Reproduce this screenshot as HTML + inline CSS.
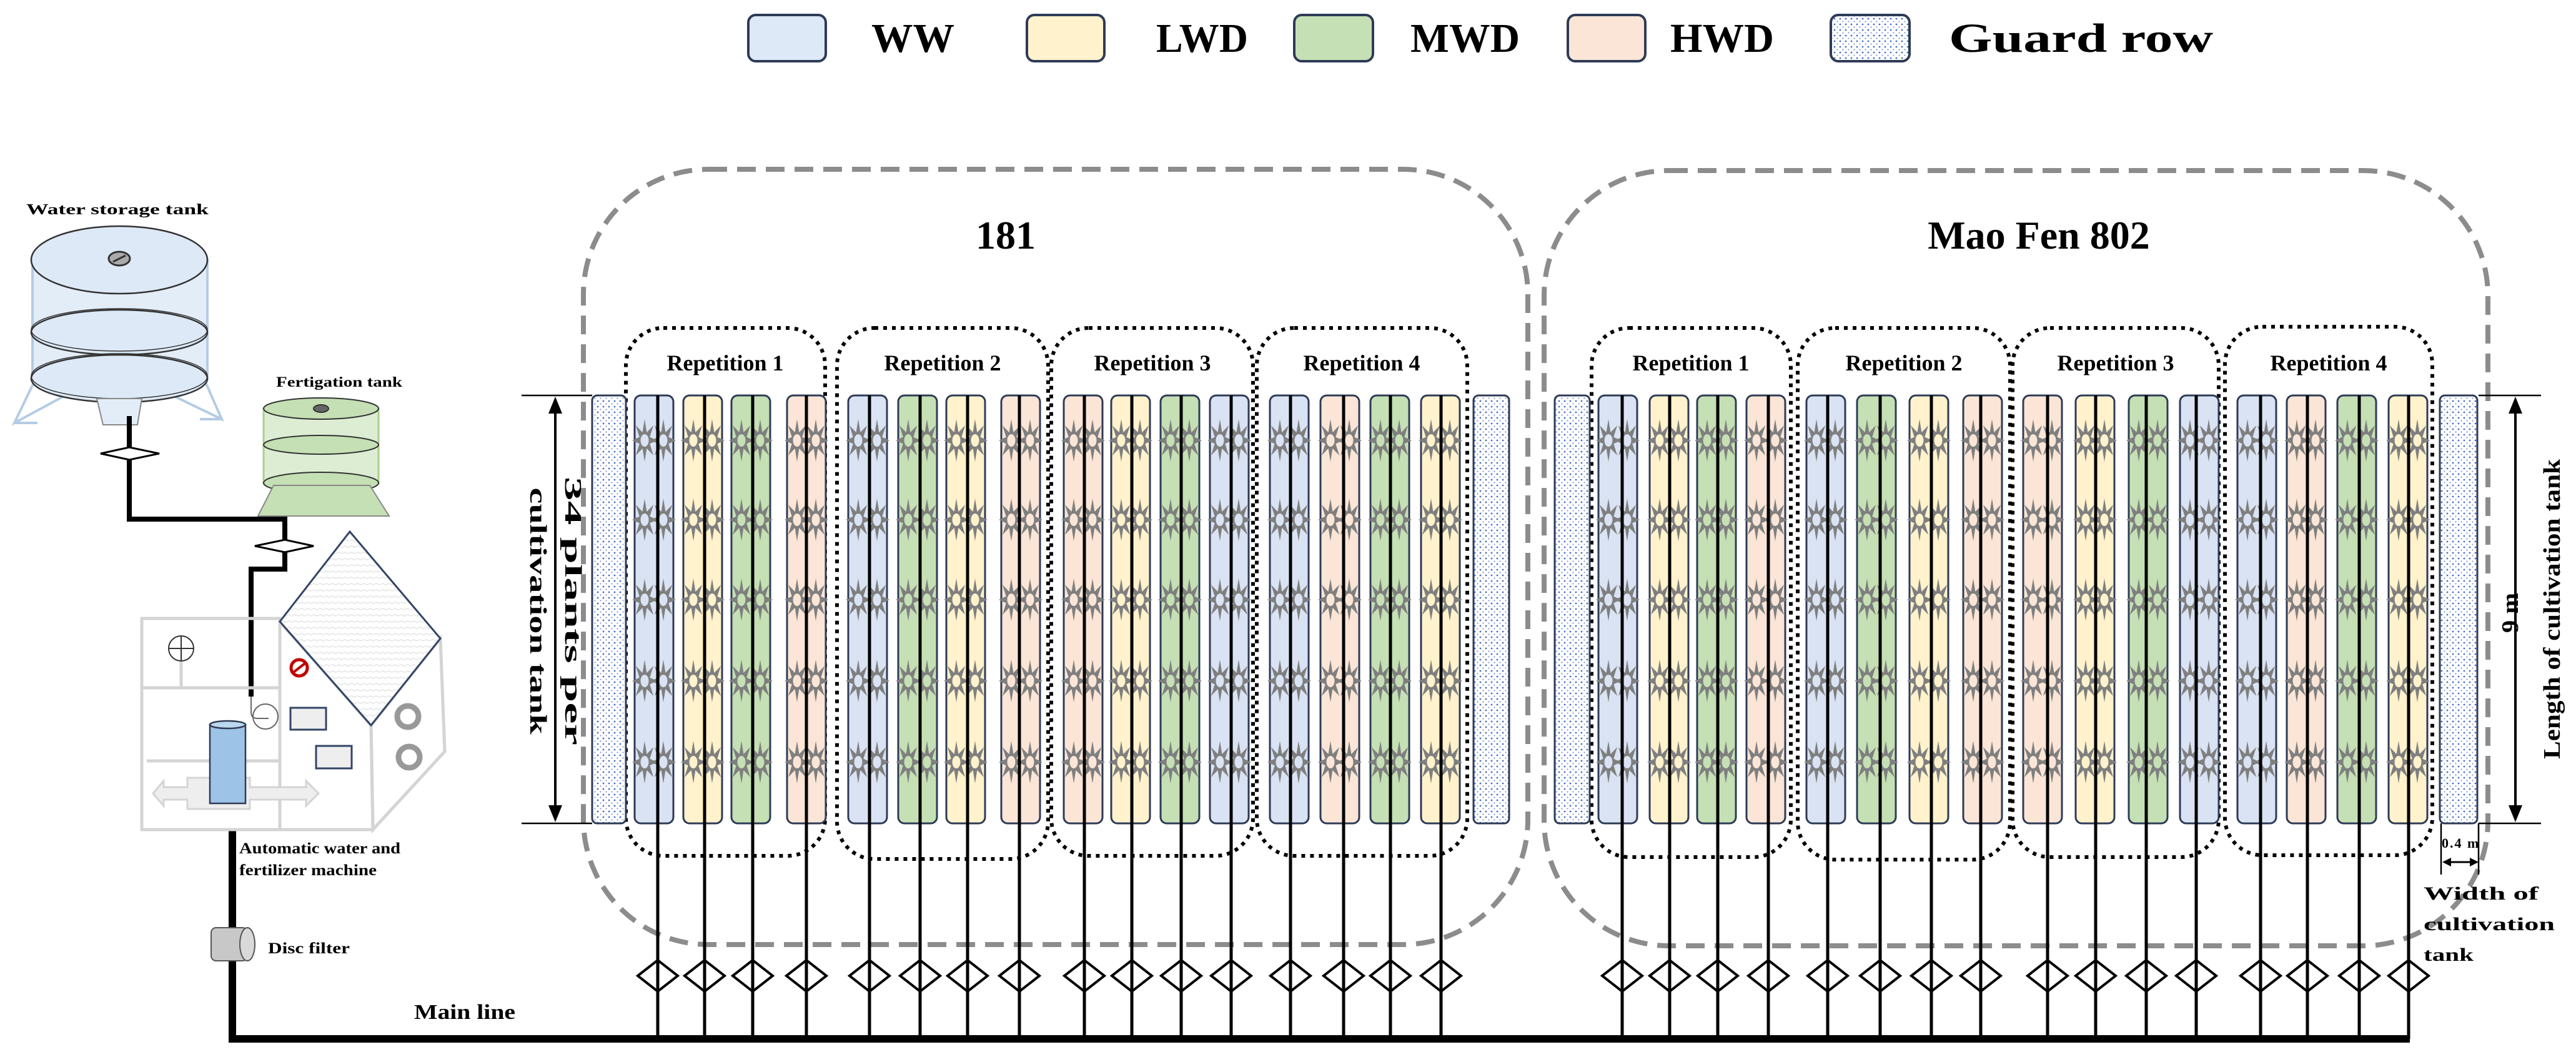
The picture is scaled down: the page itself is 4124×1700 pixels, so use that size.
<!DOCTYPE html>
<html><head><meta charset="utf-8"><style>
html,body{margin:0;padding:0;background:#fff;}
svg{display:block;}
text{font-family:"Liberation Serif",serif;font-weight:bold;fill:#000;}
</style></head><body>
<svg width="4124" height="1700" viewBox="0 0 4124 1700" xmlns="http://www.w3.org/2000/svg">
<defs>
<pattern id="dots" width="9" height="9" patternUnits="userSpaceOnUse"><rect width="9" height="9" fill="#fff"/><circle cx="3" cy="3" r="1.4" fill="#4a6fc0"/><circle cx="7.5" cy="7.5" r="1.1" fill="#7d99d6"/></pattern>
<pattern id="hatch" width="10" height="10" patternUnits="userSpaceOnUse"><rect width="10" height="10" fill="#fff"/><path d="M0 5 Q2.5 3 5 5 T10 5" stroke="#e4e4e4" stroke-width="1.5" fill="none"/></pattern>
<g id="st">
<polygon points="0,-34 3.4,-12.9 14.1,-24 8.3,-5.4 20,0 8.3,5.4 14.1,24 3.4,12.9 0,34 -3.4,12.9 -14.1,24 -8.3,5.4 -20,0 -8.3,-5.4 -14.1,-24 -3.4,-12.9" fill="#7f7f7f"/>
<ellipse cx="0" cy="0" rx="6.5" ry="10" fill="currentColor"/>
</g>
<g id="tank">
<rect x="0" y="633" width="62" height="685" rx="10" fill="currentColor" stroke="#2e3b57" stroke-width="3"/>
<use href="#st" x="16" y="705"/><use href="#st" x="46" y="705"/>
<use href="#st" x="16" y="832"/><use href="#st" x="46" y="832"/>
<use href="#st" x="16" y="960"/><use href="#st" x="46" y="960"/>
<use href="#st" x="16" y="1090"/><use href="#st" x="46" y="1090"/>
<use href="#st" x="16" y="1220"/><use href="#st" x="46" y="1220"/>
</g>
<g id="valve"><polygon points="-32,0 0,-25 32,0 0,25" fill="#fff" stroke="#000" stroke-width="4"/></g>
</defs>

<!-- Legend -->
<g stroke="#2e3b57" stroke-width="4">
<rect x="1198" y="24" width="124" height="74" rx="12" fill="#dde9f6"/>
<rect x="1644" y="24" width="124" height="74" rx="12" fill="#fff2cc"/>
<rect x="2072" y="24" width="126" height="74" rx="12" fill="#c5e0b4"/>
<rect x="2510" y="24" width="124" height="74" rx="12" fill="#fbe5d6"/>
<rect x="2931" y="24" width="126" height="74" rx="12" fill="url(#dots)"/>
</g>
<g font-size="66">
<text x="1395" y="83" textLength="133" lengthAdjust="spacingAndGlyphs">WW</text>
<text x="1851" y="83" textLength="147" lengthAdjust="spacingAndGlyphs">LWD</text>
<text x="2258" y="83" textLength="175" lengthAdjust="spacingAndGlyphs">MWD</text>
<text x="2674" y="83" textLength="166" lengthAdjust="spacingAndGlyphs">HWD</text>
<text x="3120" y="83" textLength="423" lengthAdjust="spacingAndGlyphs">Guard row</text>
</g>

<!-- Big dashed boxes -->
<g fill="none" stroke="#8c8c8c" stroke-width="8" stroke-dasharray="30,16">
<rect x="934" y="271" width="1512" height="1241" rx="200"/>
<rect x="2472" y="273" width="1511" height="1241" rx="200"/>
</g>
<text x="1610" y="398" font-size="64" text-anchor="middle">181</text>
<text x="3264" y="398" font-size="64" text-anchor="middle">Mao Fen 802</text>

<!-- Repetition boxes -->
<g fill="none" stroke="#000" stroke-width="6" stroke-dasharray="6,8">
<rect x="1002" y="525" width="319" height="845" rx="60"/>
<rect x="1340" y="525" width="338" height="850" rx="60"/>
<rect x="1683" y="525" width="323" height="845" rx="60"/>
<rect x="2012" y="525" width="337" height="845" rx="60"/>
<rect x="2548" y="525" width="319" height="847" rx="60"/>
<rect x="2878" y="525" width="340" height="851" rx="60"/>
<rect x="3222" y="525" width="330" height="847" rx="60"/>
<rect x="3562" y="523" width="332" height="846" rx="60"/>
</g>
<g font-size="36" text-anchor="middle">
<text x="1161" y="593">Repetition 1</text>
<text x="1509" y="593">Repetition 2</text>
<text x="1845" y="593">Repetition 3</text>
<text x="2180" y="593">Repetition 4</text>
<text x="2707" y="593">Repetition 1</text>
<text x="3048" y="593">Repetition 2</text>
<text x="3387" y="593">Repetition 3</text>
<text x="3728" y="593">Repetition 4</text>
</g>

<!-- Guard rows -->
<g stroke="#2e3b57" stroke-width="3" fill="url(#dots)">
<rect x="948" y="633" width="54" height="685" rx="8"/>
<rect x="2359" y="633" width="57" height="685" rx="8"/>
<rect x="2489" y="633" width="56" height="685" rx="8"/>
<rect x="3906" y="633" width="60" height="685" rx="8"/>
</g>

<!-- Tanks -->
<g>
<use href="#tank" x="1016" style="color:#dae3f3"/>
<use href="#tank" x="1094" style="color:#fff2cc"/>
<use href="#tank" x="1171" style="color:#c5e0b4"/>
<use href="#tank" x="1260" style="color:#fbe5d6"/>
<use href="#tank" x="1358" style="color:#dae3f3"/>
<use href="#tank" x="1438" style="color:#c5e0b4"/>
<use href="#tank" x="1515" style="color:#fff2cc"/>
<use href="#tank" x="1603" style="color:#fbe5d6"/>
<use href="#tank" x="1703" style="color:#fbe5d6"/>
<use href="#tank" x="1779" style="color:#fff2cc"/>
<use href="#tank" x="1858" style="color:#c5e0b4"/>
<use href="#tank" x="1937" style="color:#dae3f3"/>
<use href="#tank" x="2033" style="color:#dae3f3"/>
<use href="#tank" x="2114" style="color:#fbe5d6"/>
<use href="#tank" x="2194" style="color:#c5e0b4"/>
<use href="#tank" x="2275" style="color:#fff2cc"/>
<use href="#tank" x="2559" style="color:#dae3f3"/>
<use href="#tank" x="2641" style="color:#fff2cc"/>
<use href="#tank" x="2717" style="color:#c5e0b4"/>
<use href="#tank" x="2796" style="color:#fbe5d6"/>
<use href="#tank" x="2892" style="color:#dae3f3"/>
<use href="#tank" x="2973" style="color:#c5e0b4"/>
<use href="#tank" x="3057" style="color:#fff2cc"/>
<use href="#tank" x="3143" style="color:#fbe5d6"/>
<use href="#tank" x="3239" style="color:#fbe5d6"/>
<use href="#tank" x="3323" style="color:#fff2cc"/>
<use href="#tank" x="3408" style="color:#c5e0b4"/>
<use href="#tank" x="3490" style="color:#dae3f3"/>
<use href="#tank" x="3582" style="color:#dae3f3"/>
<use href="#tank" x="3661" style="color:#fbe5d6"/>
<use href="#tank" x="3742" style="color:#c5e0b4"/>
<use href="#tank" x="3824" style="color:#fff2cc"/>
</g>

<!-- Drip lines -->
<g stroke="#000" stroke-width="5">
<line x1="1053" y1="633" x2="1053" y2="1663"/><line x1="1128" y1="633" x2="1128" y2="1663"/><line x1="1205" y1="633" x2="1205" y2="1663"/><line x1="1291" y1="633" x2="1291" y2="1663"/>
<line x1="1392" y1="633" x2="1392" y2="1663"/><line x1="1473" y1="633" x2="1473" y2="1663"/><line x1="1549" y1="633" x2="1549" y2="1663"/><line x1="1632" y1="633" x2="1632" y2="1663"/>
<line x1="1736" y1="633" x2="1736" y2="1663"/><line x1="1812" y1="633" x2="1812" y2="1663"/><line x1="1891" y1="633" x2="1891" y2="1663"/><line x1="1971" y1="633" x2="1971" y2="1663"/>
<line x1="2066" y1="633" x2="2066" y2="1663"/><line x1="2151" y1="633" x2="2151" y2="1663"/><line x1="2226" y1="633" x2="2226" y2="1663"/><line x1="2307" y1="633" x2="2307" y2="1663"/>
<line x1="2597" y1="633" x2="2597" y2="1663"/><line x1="2673" y1="633" x2="2673" y2="1663"/><line x1="2750" y1="633" x2="2750" y2="1663"/><line x1="2831" y1="633" x2="2831" y2="1663"/>
<line x1="2926" y1="633" x2="2926" y2="1663"/><line x1="3010" y1="633" x2="3010" y2="1663"/><line x1="3092" y1="633" x2="3092" y2="1663"/><line x1="3171" y1="633" x2="3171" y2="1663"/>
<line x1="3278" y1="633" x2="3278" y2="1663"/><line x1="3355" y1="633" x2="3355" y2="1663"/><line x1="3436" y1="633" x2="3436" y2="1663"/><line x1="3516" y1="633" x2="3516" y2="1663"/>
<line x1="3619" y1="633" x2="3619" y2="1663"/><line x1="3694" y1="633" x2="3694" y2="1663"/><line x1="3777" y1="633" x2="3777" y2="1663"/><line x1="3856" y1="633" x2="3856" y2="1663"/>
</g>
<!-- Valves -->
<g>
<use href="#valve" x="1053" y="1562"/><use href="#valve" x="1128" y="1562"/><use href="#valve" x="1205" y="1562"/><use href="#valve" x="1291" y="1562"/>
<use href="#valve" x="1392" y="1562"/><use href="#valve" x="1473" y="1562"/><use href="#valve" x="1549" y="1562"/><use href="#valve" x="1632" y="1562"/>
<use href="#valve" x="1736" y="1562"/><use href="#valve" x="1812" y="1562"/><use href="#valve" x="1891" y="1562"/><use href="#valve" x="1971" y="1562"/>
<use href="#valve" x="2066" y="1562"/><use href="#valve" x="2151" y="1562"/><use href="#valve" x="2226" y="1562"/><use href="#valve" x="2307" y="1562"/>
<use href="#valve" x="2597" y="1562"/><use href="#valve" x="2673" y="1562"/><use href="#valve" x="2750" y="1562"/><use href="#valve" x="2831" y="1562"/>
<use href="#valve" x="2926" y="1562"/><use href="#valve" x="3010" y="1562"/><use href="#valve" x="3092" y="1562"/><use href="#valve" x="3171" y="1562"/>
<use href="#valve" x="3278" y="1562"/><use href="#valve" x="3355" y="1562"/><use href="#valve" x="3436" y="1562"/><use href="#valve" x="3516" y="1562"/>
<use href="#valve" x="3619" y="1562"/><use href="#valve" x="3694" y="1562"/><use href="#valve" x="3777" y="1562"/><use href="#valve" x="3856" y="1562"/>
</g>
<g stroke="#000" stroke-width="5">
<line x1="1053" y1="1537" x2="1053" y2="1663"/><line x1="1128" y1="1537" x2="1128" y2="1663"/><line x1="1205" y1="1537" x2="1205" y2="1663"/><line x1="1291" y1="1537" x2="1291" y2="1663"/>
<line x1="1392" y1="1537" x2="1392" y2="1663"/><line x1="1473" y1="1537" x2="1473" y2="1663"/><line x1="1549" y1="1537" x2="1549" y2="1663"/><line x1="1632" y1="1537" x2="1632" y2="1663"/>
<line x1="1736" y1="1537" x2="1736" y2="1663"/><line x1="1812" y1="1537" x2="1812" y2="1663"/><line x1="1891" y1="1537" x2="1891" y2="1663"/><line x1="1971" y1="1537" x2="1971" y2="1663"/>
<line x1="2066" y1="1537" x2="2066" y2="1663"/><line x1="2151" y1="1537" x2="2151" y2="1663"/><line x1="2226" y1="1537" x2="2226" y2="1663"/><line x1="2307" y1="1537" x2="2307" y2="1663"/>
<line x1="2597" y1="1537" x2="2597" y2="1663"/><line x1="2673" y1="1537" x2="2673" y2="1663"/><line x1="2750" y1="1537" x2="2750" y2="1663"/><line x1="2831" y1="1537" x2="2831" y2="1663"/>
<line x1="2926" y1="1537" x2="2926" y2="1663"/><line x1="3010" y1="1537" x2="3010" y2="1663"/><line x1="3092" y1="1537" x2="3092" y2="1663"/><line x1="3171" y1="1537" x2="3171" y2="1663"/>
<line x1="3278" y1="1537" x2="3278" y2="1663"/><line x1="3355" y1="1537" x2="3355" y2="1663"/><line x1="3436" y1="1537" x2="3436" y2="1663"/><line x1="3516" y1="1537" x2="3516" y2="1663"/>
<line x1="3619" y1="1537" x2="3619" y2="1663"/><line x1="3694" y1="1537" x2="3694" y2="1663"/><line x1="3777" y1="1537" x2="3777" y2="1663"/><line x1="3856" y1="1537" x2="3856" y2="1663"/>
</g>

<!-- Main line -->
<path d="M372 1328 V1663 H3858" fill="none" stroke="#000" stroke-width="12"/>
<text x="663" y="1631" font-size="34" textLength="162" lengthAdjust="spacingAndGlyphs">Main line</text>

<!-- Left dimension -->
<g stroke="#000" stroke-width="2.5">
<line x1="835" y1="633" x2="948" y2="633"/>
<line x1="835" y1="1318" x2="948" y2="1318"/>
</g>
<line x1="889" y1="660" x2="889" y2="1292" stroke="#000" stroke-width="4"/>
<polygon points="889,635 878,662 900,662" fill="#000"/>
<polygon points="889,1316 878,1289 900,1289" fill="#000"/>
<g font-size="38" text-anchor="middle">
<text transform="translate(905,978) rotate(90)" textLength="430" lengthAdjust="spacingAndGlyphs">34 plants per</text>
<text transform="translate(849,978) rotate(90)" textLength="395" lengthAdjust="spacingAndGlyphs">cultivation tank</text>
</g>

<!-- Right dimension -->
<g stroke="#000" stroke-width="2.5">
<line x1="3968" y1="633" x2="4068" y2="633"/>
<line x1="3968" y1="1318" x2="4068" y2="1318"/>
<line x1="3908" y1="1318" x2="3908" y2="1400"/>
<line x1="3968" y1="1318" x2="3968" y2="1400"/>
</g>
<line x1="4027" y1="660" x2="4027" y2="1292" stroke="#000" stroke-width="4"/>
<polygon points="4027,635 4016,662 4038,662" fill="#000"/>
<polygon points="4027,1316 4016,1289 4038,1289" fill="#000"/>
<g font-size="38" text-anchor="middle">
<text transform="translate(4031,981) rotate(-90)" textLength="64" lengthAdjust="spacingAndGlyphs">9 m</text>
<text transform="translate(4098,975) rotate(-90)" textLength="480" lengthAdjust="spacingAndGlyphs">Length of cultivation tank</text>
</g>
<text x="3909" y="1357" font-size="22" letter-spacing="2">0.4 m</text>
<line x1="3922" y1="1380" x2="3956" y2="1380" stroke="#000" stroke-width="3"/>
<polygon points="3910,1380 3924,1373 3924,1387" fill="#000"/>
<polygon points="3968,1380 3954,1373 3954,1387" fill="#000"/>
<g font-size="30">
<text x="3880" y="1440" textLength="184" lengthAdjust="spacingAndGlyphs">Width of</text>
<text x="3880" y="1489" textLength="210" lengthAdjust="spacingAndGlyphs">cultivation</text>
<text x="3880" y="1538" textLength="80" lengthAdjust="spacingAndGlyphs">tank</text>
</g>

<!-- Water storage tank -->
<text x="42" y="343" font-size="24" textLength="292" lengthAdjust="spacingAndGlyphs">Water storage tank</text>
<g stroke="#b4cce4" stroke-width="4" fill="none">
<polyline points="62,596 23,677 110,630"/>
<polyline points="322,596 355,671 270,630"/>
<line x1="23" y1="677" x2="60" y2="677"/>
<line x1="320" y1="671" x2="355" y2="671"/>
</g>
<rect x="52" y="416" width="280" height="190" fill="#e3edf8" stroke="#b4cce4" stroke-width="4"/>
<ellipse cx="191" cy="606" rx="141" ry="38" fill="#dde9f6" stroke="#333" stroke-width="2.5"/>
<ellipse cx="191" cy="532" rx="141" ry="36" fill="#dde9f6" stroke="#333" stroke-width="2.5"/>
<ellipse cx="191" cy="528" rx="141" ry="34" fill="none" stroke="#333" stroke-width="1.5"/>
<ellipse cx="191" cy="602" rx="141" ry="36" fill="none" stroke="#333" stroke-width="1.5"/>
<ellipse cx="191" cy="416" rx="141" ry="54" fill="#dde9f6" stroke="#333" stroke-width="2.5"/>
<ellipse cx="191" cy="414" rx="17" ry="11" fill="#aaa" stroke="#333" stroke-width="3"/>
<line x1="181" y1="419" x2="201" y2="409" stroke="#333" stroke-width="3"/>
<polygon points="155,638 227,638 220,680 165,680" fill="#e3edf8" stroke="#888" stroke-width="2"/>

<!-- Pipes -->
<path d="M207 666 V831 H456 V911 H402 V1115" fill="none" stroke="#000" stroke-width="8"/>
<polygon points="161,726 207,716 255,726 207,736" fill="#fff" stroke="#000" stroke-width="3"/>
<polygon points="408,874 456,864 502,874 456,884" fill="#fff" stroke="#000" stroke-width="3"/>

<!-- Fertigation tank -->
<text x="442" y="619" font-size="23" textLength="202" lengthAdjust="spacingAndGlyphs">Fertigation tank</text>
<rect x="422" y="654" width="184" height="120" fill="#dcedd3" stroke="#a8d08d" stroke-width="3"/>
<ellipse cx="514" cy="773" rx="92" ry="17" fill="#c5e0b4" stroke="#333" stroke-width="2"/>
<ellipse cx="514" cy="712" rx="92" ry="15" fill="#c5e0b4" stroke="#333" stroke-width="2"/>
<polygon points="438,777 592,777 623,826 413,826" fill="#c5e0b4" stroke="#888" stroke-width="2"/>
<ellipse cx="514" cy="654" rx="92" ry="17" fill="#c5e0b4" stroke="#333" stroke-width="2"/>
<ellipse cx="514" cy="654" rx="12" ry="6" fill="#666" stroke="#333" stroke-width="2"/>

<!-- Machine -->
<g stroke="#d4d4d4" stroke-width="5" fill="none">
<rect x="227" y="990" width="221" height="338"/>
<line x1="227" y1="1101" x2="448" y2="1101"/>
<line x1="235" y1="1218" x2="448" y2="1218"/>
<line x1="290" y1="1058" x2="290" y2="1101"/>
<polygon points="448,995 594,1161 597,1328 448,1328"/>
<polygon points="594,1161 705,1022 712,1203 597,1328"/>
</g>
<polygon points="245,1270 262,1250 262,1260 300,1260 300,1245 400,1245 400,1260 490,1260 490,1250 510,1270 490,1290 490,1280 400,1280 400,1295 300,1295 300,1280 262,1280 262,1290" fill="#eee" stroke="#d4d4d4" stroke-width="3"/>
<circle cx="290" cy="1038" r="20" fill="#fff" stroke="#333" stroke-width="2"/>
<line x1="270" y1="1038" x2="310" y2="1038" stroke="#333" stroke-width="2"/>
<line x1="290" y1="1018" x2="290" y2="1058" stroke="#333" stroke-width="2"/>
<polygon points="560,851 705,1022 594,1161 448,995" fill="url(#hatch)" stroke="#334466" stroke-width="3"/>
<circle cx="479" cy="1069" r="13" fill="#fff" stroke="#c00000" stroke-width="5"/>
<line x1="470" y1="1076" x2="488" y2="1062" stroke="#c00000" stroke-width="4"/>
<rect x="465" y="1133" width="57" height="35" fill="#eee" stroke="#334466" stroke-width="3"/>
<rect x="506" y="1194" width="57" height="36" fill="#eee" stroke="#334466" stroke-width="3"/>
<circle cx="653" cy="1147" r="17" fill="#fff" stroke="#999" stroke-width="9"/>
<circle cx="655" cy="1212" r="17" fill="#fff" stroke="#999" stroke-width="9"/>
<circle cx="425" cy="1147" r="20" fill="none" stroke="#666" stroke-width="2"/>
<path d="M402 1115 V1140 Q402 1150 412 1150 H430" fill="none" stroke="#666" stroke-width="2"/>
<rect x="336" y="1160" width="57" height="126" fill="#9dc3e6" stroke="#2e3b57" stroke-width="2.5"/>
<ellipse cx="364.5" cy="1160" rx="28.5" ry="6" fill="#bdd7ee" stroke="#2e3b57" stroke-width="2.5"/>
<g font-size="25">
<text x="383" y="1366" textLength="258" lengthAdjust="spacingAndGlyphs">Automatic water and</text>
<text x="383" y="1401" textLength="220" lengthAdjust="spacingAndGlyphs">fertilizer machine</text>
</g>

<!-- Disc filter -->
<rect x="338" y="1485" width="58" height="53" rx="8" fill="#c8c8c8" stroke="#555" stroke-width="2"/>
<ellipse cx="396" cy="1511.5" rx="12" ry="26.5" fill="#d9d9d9" stroke="#555" stroke-width="2"/>
<text x="429" y="1526" font-size="25" textLength="131" lengthAdjust="spacingAndGlyphs">Disc filter</text>
</svg>
</body></html>
